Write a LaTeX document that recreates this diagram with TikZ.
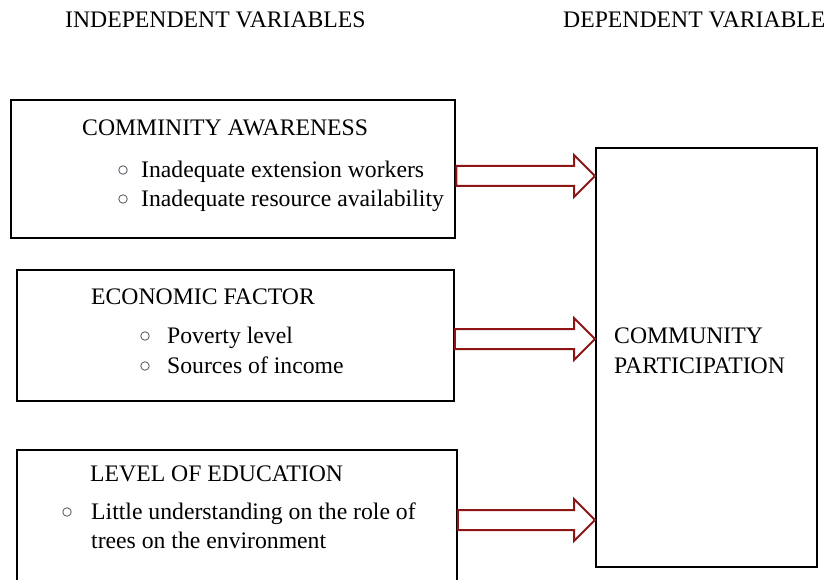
\documentclass[tikz,border=0pt]{standalone}
\usepackage{fontspec}
\setmainfont{Liberation Serif}
\usetikzlibrary{calc}

\definecolor{arrowred}{RGB}{140,22,22}
\definecolor{ringgray}{RGB}{100,100,110}

\tikzset{
  label/.style={anchor=base west, inner sep=0pt, font=\fontsize{23.7}{29}\selectfont},
  panel/.style={draw, line width=1.6pt, inner sep=0pt},
  ring/.style={circle, draw=ringgray, line width=0.9pt, minimum size=8.5pt, inner sep=0pt},
  % hollow block arrow from start point to target point
  fatarrow/.style={draw=arrowred, line width=2pt, line join=miter,
    to path={let \p1=(\tikztostart), \p2=(\tikztotarget) in
      (\x1,\y1+10pt) -- (\x2-21pt,\y1+10pt) -- (\x2-21pt,\y1+21pt) -- (\x2,\y1)
      -- (\x2-21pt,\y1-21pt) -- (\x2-21pt,\y1-10pt) -- (\x1,\y1-10pt) -- cycle}}
}

\begin{document}
\begin{tikzpicture}[x=1pt,y=1pt]
\useasboundingbox (0,0) rectangle (834,579);
\clip (0,0) rectangle (834,579);

% Column headings
\node[label] (indep) at (65,551) {INDEPENDENT VARIABLES};
\node[label] (dep) at (563,551) {DEPENDENT VARIABLE};

% Independent variable boxes
\node[panel, line width=2.6pt, minimum width=444pt, minimum height=138pt] (aware) at (233,410) {};
\node[panel, minimum width=437pt, minimum height=131pt] (econ) at (235.5,243.5) {};
\node[panel, minimum width=440pt, minimum height=150pt] (edu) at (237,54) {};

% Dependent variable box
\node[panel, line width=2pt, minimum width=221pt, minimum height=419pt] (part) at (706.5,221.5) {};

% Awareness
\node[label] (awtitle) at (82,443) {COMMINITY AWARENESS};
\node[ring] (awring1) at (123,409) {};
\node[label] (aw1) at (141,401) {Inadequate extension workers};
\node[ring] (awring2) at (123,380) {};
\node[label] (aw2) at (141,372) {Inadequate resource availability};

% Economic factor
\node[label] (ectitle) at (91,275) {ECONOMIC FACTOR};
\node[ring] (ecring1) at (145,243) {};
\node[label] (ec1) at (167,236) {Poverty level};
\node[ring] (ecring2) at (145,213) {};
\node[label] (ec2) at (167,206) {Sources of income};

% Education
\node[label] (edtitle) at (90,98) {LEVEL OF EDUCATION};
\node[ring] (edring) at (67,67) {};
\node[label] (ed1) at (91,60) {Little understanding on the role of};
\node[label] (ed2) at (91,31) {trees on the environment};

% Outcome
\node[label] (pt1) at (614,236) {COMMUNITY};
\node[label] (pt2) at (614,206) {PARTICIPATION};

% Arrows into the outcome box
\coordinate (a1) at (aware.east |- 0,403);
\coordinate (a2) at (econ.east |- 0,240);
\coordinate (a3) at (edu.east |- 0,59);
\draw[fatarrow] (a1) to (a1 -| part.west);
\draw[fatarrow] (a2) to (a2 -| part.west);
\draw[fatarrow] (a3) to (a3 -| part.west);
\end{tikzpicture}
\end{document}
